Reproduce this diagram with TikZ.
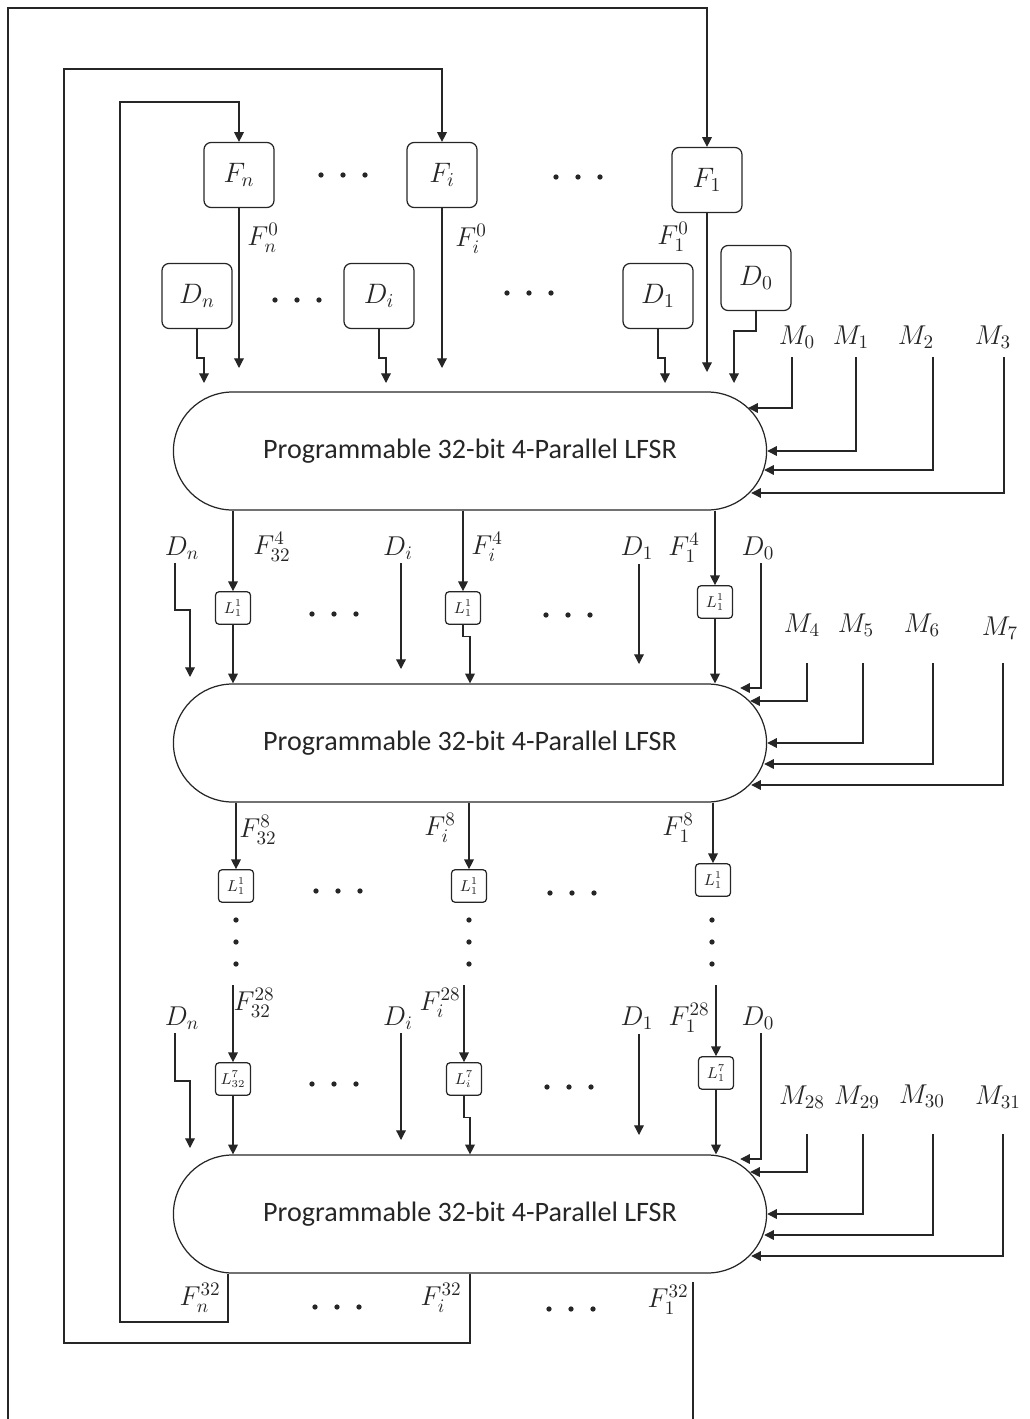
\documentclass[tikz,border=0pt]{standalone}
\usepackage{fix-cm}
\usepackage{fontspec}
\newfontfamily\lfsrfont{Carlito}
\usetikzlibrary{arrows.meta, shapes.misc}

\begin{document}
\begin{tikzpicture}[x=0.02cm, y=-0.02cm, >={Triangle[length=5.5pt,width=5.5pt]},
    line width=0.7pt, color=black!85,
    regbox/.style={draw, rounded corners=4pt, minimum width=1.4cm, minimum height=1.3cm,
      inner sep=0pt, font=\fontsize{16}{19}\selectfont},
    latch/.style={draw, rounded corners=2pt, minimum width=0.7cm, minimum height=0.65cm,
      inner sep=0pt, font=\fontsize{9}{10}\selectfont},
    lfsr/.style={draw, rounded rectangle, minimum width=12.1cm, minimum height=2.36cm,
      font=\lfsrfont\fontsize{16}{19}\selectfont},
    sig/.style={inner sep=0pt, font=\fontsize{15.5}{18}\selectfont}]
  \useasboundingbox (0,0) rectangle (1029,1419);

  % feedback registers and data registers
  \node[regbox] (Fn) at (239,175) {$F_n$};
  \node[regbox] (Fi) at (442,175) {$F_i$};
  \node[regbox] (F1) at (707,180) {$F_1$};
  \node[regbox] (Dn) at (197,296) {$D_n$};
  \node[regbox] (Di) at (379,296) {$D_i$};
  \node[regbox] (D1) at (658,296) {$D_1$};
  \node[regbox] (D0) at (756,278) {$D_0$};

  % the three LFSR stages
  \node[lfsr] (lfsr1) at (470,451) {Programmable 32-bit 4-Parallel LFSR};
  \node[lfsr] (lfsr2) at (470,743) {Programmable 32-bit 4-Parallel LFSR};
  \node[lfsr] (lfsr3) at (470,1214) {Programmable 32-bit 4-Parallel LFSR};

  % inputs of the first stage
  \draw[->] (Fn) -- (Fn |- 0,368);
  \draw[->] (Fi) -- (Fi |- 0,368);
  \draw[->] (F1) -- (F1 |- 0,372);
  \draw[->] (Dn.south) -- ++(0,29) -| (204,383);
  \draw[->] (Di.south) -- ++(0,29) -| (386,383);
  \draw[->] (D1.south) -- ++(0,29) -| (665,383);
  \draw[->] (D0.south) -- ++(0,20) -| (734,383);
  \node[sig] (Fn0) at (263,238) {$F_n^0$};
  \node[sig] (Fi0) at (471,239) {$F_i^0$};
  \node[sig] (F10) at (673,237) {$F_1^0$};

  % mask inputs on the right
  \foreach \m/\lx/\ly/\mx/\my/\st/\dx/\dy in {
      0/797/337/792/357/1/-19/-43, 1/851/337/856/357/1/0/0,
      2/916/337/933/357/1/-3/19, 3/993/337/1004/357/1/-16/42,
      4/802/625/807/663/2/-17/-42, 5/856/625/863/663/2/0/0,
      6/922/625/933/663/2/-3/21, 7/1000/628/1003/663/2/-16/42,
      28/802/1097/807/1134/3/-17/-42, 29/857/1097/863/1134/3/0/0,
      30/922/1096/933/1134/3/-3/21, 31/998/1097/1003/1134/3/-16/42} {
    \node[sig] (M\m) at (\lx,\ly) {$M_{\m}$};
    \coordinate (m\m) at (\mx,\my);
    \draw[->] (m\m) |- ([shift={(\dx,\dy)}]lfsr\st.east);
  }

  % data inputs of the later stages
  \foreach \st/\ly/\ty in {2/548/684, 3/1018/1155} {
    \node[sig] (Dn\st) at (182,\ly) {$D_n$};
    \node[sig] (Di\st) at (398,\ly) {$D_i$};
    \node[sig] (Do\st) at (637,\ly) {$D_1$};
    \node[sig] (Dz\st) at (758,\ly) {$D_0$};
    \coordinate (dn\st) at (175,\ly+15);
    \coordinate (di\st) at (401,\ly+15);
    \coordinate (do\st) at (639,\ly+16);
    \coordinate (dz\st) at (761,\ly+15);
    \draw[->] (dn\st) -- (175,\ty-74) -- (190,\ty-74) -- (190,\ty-7);
    \draw[->] (di\st) -- (401,\ty-15);
    \draw[->] (do\st) -- (639,\ty-20);
    \draw[->] (dz\st) |- ([shift={(-27,-55)}]lfsr\st.east);
  }

  % stage 1 to stage 2
  \node[latch] (La2) at (233,608) {$L_1^1$};
  \node[latch] (Lb2) at (463,608) {$L_1^1$};
  \node[latch] (Lc2) at (715,602) {$L_1^1$};
  \draw[->] (lfsr1.south -| La2) -- (La2);
  \draw[->] (lfsr1.south -| Lb2) -- (Lb2);
  \draw[->] (lfsr1.south -| Lc2) -- (Lc2);
  \draw[->] (La2) -- (lfsr2.north -| La2);
  \draw[->] (Lb2.south) -- ++(0,12) -| (lfsr2.north -| 470,0);
  \draw[->] (Lc2) -- (lfsr2.north -| Lc2);
  \node[sig] (F324) at (272,547) {$F_{32}^4$};
  \node[sig] (Fi4) at (487,547) {$F_i^4$};
  \node[sig] (F14) at (684,548) {$F_1^4$};

  % stage 2 outputs
  \node[latch] (Ld) at (236,886) {$L_1^1$};
  \node[latch] (Le) at (469,886) {$L_1^1$};
  \node[latch] (Lf) at (713,880) {$L_1^1$};
  \draw[->] (lfsr2.south -| Ld) -- (Ld);
  \draw[->] (lfsr2.south -| Le) -- (Le);
  \draw[->] (lfsr2.south -| Lf) -- (Lf);
  \node[sig] (F328) at (258,830) {$F_{32}^8$};
  \node[sig] (Fi8) at (440,828) {$F_i^8$};
  \node[sig] (F18) at (678,828) {$F_1^8$};

  % stage 3 inputs
  \node[latch] (La3) at (233,1079) {$L_{32}^7$};
  \node[latch] (Lb3) at (464,1079) {$L_i^7$};
  \node[latch] (Lc3) at (716,1073) {$L_1^7$};
  \coordinate (fa) at (233,985);
  \coordinate (fb) at (464,985);
  \coordinate (fc) at (716,985);
  \draw[->] (fa) -- (La3);
  \draw[->] (fb) -- (Lb3);
  \draw[->] (fc) -- (Lc3);
  \draw[->] (La3) -- (lfsr3.north -| La3);
  \draw[->] (Lb3.south) -- ++(0,22) -| (lfsr3.north -| 470,0);
  \draw[->] (Lc3) -- (lfsr3.north -| Lc3);
  \node[sig] (F3228) at (254,1003) {$F_{32}^{28}$};
  \node[sig] (Fi28) at (440,1003) {$F_i^{28}$};
  \node[sig] (F128) at (689,1018) {$F_1^{28}$};

  % feedback loops
  \draw[->] (lfsr3.south -| 228,0) -- (228,1322) -- (120,1322) -- (120,102) -| (Fn.north);
  \draw[->] (lfsr3.south -| 470,0) -- (470,1343) -- (64,1343) -- (64,69) -| (Fi.north);
  \draw (693,1282) -- (693,1419);
  \draw[->] (8,1419) -- (8,8) -| (F1.north);
  \node[sig] (Fn32) at (200,1298) {$F_n^{32}$};
  \node[sig] (Fi32) at (441,1298) {$F_i^{32}$};
  \node[sig] (F132) at (668,1300) {$F_1^{32}$};

  % ellipsis dots
  \foreach \x/\y in {343/175, 578/177, 297/300, 529/293, 334/614, 568/615,
      338/891, 572/893, 334/1084, 569/1087, 337/1307, 571/1309} {
    \foreach \d in {-22,0,22} \fill (\x+\d,\y) circle (1.5pt);
  }
  \foreach \x in {236,469,712}
    \foreach \y in {920,942,964} \fill (\x,\y) circle (1.5pt);
\end{tikzpicture}
\end{document}
